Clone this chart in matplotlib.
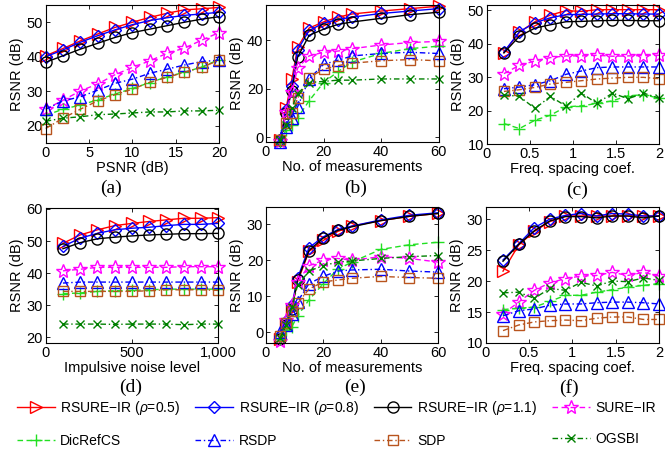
import numpy as np
import matplotlib as mpl
import matplotlib.pyplot as plt

mpl.rcParams['font.family'] = 'Liberation Sans'
mpl.rcParams['font.size'] = 10
mpl.rcParams['mathtext.fontset'] = 'custom'
mpl.rcParams['mathtext.rm'] = 'Liberation Sans'
mpl.rcParams['mathtext.it'] = 'Liberation Sans:italic'

W, H = 665, 457

methods = ['RSURE\u2212IR ($\\it{\\rho}$=0.5)', 'RSURE\u2212IR ($\\it{\\rho}$=0.8)',
           'RSURE\u2212IR ($\\it{\\rho}$=1.1)', 'SURE\u2212IR',
           'DicRefCS', 'RSDP', 'SDP', 'OGSBI']

# (a) RSNR vs PSNR, rows in the order of `methods`
a_x = [0, 2, 4, 6, 8, 10, 12, 14, 16, 18, 20]
a_y = [
    [40.3, 42.4, 44.6, 46.6, 48.5, 50.0, 51.4, 52.6, 53.6, 53.9, 54.3],
    [40.0, 42.0, 44.2, 46.1, 47.8, 49.3, 50.5, 51.3, 52.0, 52.4, 52.9],
    [38.4, 40.3, 42.2, 43.9, 45.6, 47.0, 48.0, 49.0, 50.0, 50.9, 51.6],
    [24.8, 27.4, 30.1, 32.1, 34.8, 36.9, 38.8, 41.0, 42.5, 44.8, 47.0],
    [23.0, 24.8, 26.0, 27.5, 29.2, 30.8, 32.5, 34.2, 35.5, 37.0, 39.2],
    [24.8, 27.2, 28.4, 30.3, 32.3, 33.5, 35.2, 36.4, 37.6, 38.6, 39.0],
    [19.2, 22.2, 24.8, 27.2, 29.0, 30.6, 32.6, 34.0, 35.5, 36.9, 39.0],
    [21.3, 22.2, 22.6, 23.2, 23.4, 23.7, 24.0, 24.0, 24.3, 24.3, 24.5],
]

# (b) RSNR vs number of measurements
b_x = [5, 7, 9, 11, 15, 20, 25, 30, 40, 50, 60]
b_y = [
    [-1.0, 12.0, 24.0, 37.0, 45.0, 47.5, 49.5, 50.8, 52.0, 53.0, 54.0],
    [-1.0, 11.0, 21.0, 36.0, 44.0, 47.0, 48.5, 49.5, 51.0, 52.0, 53.0],
    [-1.0, 10.0, 19.0, 33.0, 42.0, 44.5, 46.5, 47.5, 49.0, 50.5, 51.5],
    [-1.5, 10.5, 18.5, 28.5, 33.5, 35.0, 35.5, 36.5, 38.0, 39.0, 39.5],
    [-2.0, 3.0, 5.0, 8.0, 15.0, 22.5, 27.0, 31.0, 34.5, 36.5, 37.5],
    [-2.0, 4.0, 8.0, 12.5, 24.0, 30.0, 31.7, 33.5, 34.5, 35.0, 34.5],
    [-1.0, 6.0, 10.0, 16.0, 24.5, 28.0, 29.5, 30.5, 31.5, 32.0, 31.5],
    [-1.0, 5.0, 12.0, 18.0, 22.5, 23.0, 23.5, 23.5, 24.0, 24.0, 24.0],
]

# (c) RSNR vs frequency spacing coefficient
c_x = [0.2, 0.38, 0.56, 0.74, 0.92, 1.1, 1.28, 1.46, 1.64, 1.82, 2.0]
c_y = [
    [37.3, 43.4, 46.5, 48.5, 49.8, 49.6, 50.1, 50.1, 50.1, 50.1, 50.1],
    [37.5, 43.5, 46.2, 47.7, 48.6, 48.7, 48.8, 48.9, 48.9, 48.8, 48.8],
    [37.2, 42.2, 44.6, 45.6, 46.5, 46.6, 46.8, 46.9, 46.9, 46.8, 46.8],
    [31.0, 33.5, 34.8, 35.8, 36.3, 36.3, 36.5, 36.2, 36.3, 36.4, 36.5],
    [16.1, 14.6, 17.1, 18.6, 21.1, 21.4, 22.1, 22.9, 24.4, 24.7, 23.7],
    [26.5, 27.0, 27.7, 28.9, 30.8, 31.8, 32.8, 33.0, 33.0, 33.0, 33.0],
    [25.7, 26.2, 26.9, 27.9, 28.4, 28.9, 29.4, 29.7, 29.9, 29.9, 29.5],
    [24.7, 24.2, 20.6, 24.2, 21.3, 25.2, 22.1, 25.2, 23.5, 25.2, 23.7],
]

# (d) RSNR vs impulsive noise level
d_x = [100, 200, 300, 400, 500, 600, 700, 800, 900, 1000]
d_y = [
    [49.3, 51.9, 53.5, 54.8, 55.5, 56.1, 56.6, 57.1, 57.1, 57.3],
    [48.3, 50.9, 52.4, 53.5, 54.0, 54.3, 54.8, 55.2, 55.2, 55.5],
    [47.6, 49.5, 50.7, 51.2, 51.6, 51.9, 52.1, 52.3, 52.3, 52.4],
    [40.7, 41.2, 41.8, 41.8, 41.8, 41.8, 41.8, 42.0, 42.0, 42.0],
    [33.6, 33.8, 34.3, 34.5, 34.6, 34.8, 35.0, 35.0, 35.0, 35.0],
    [36.9, 37.2, 37.2, 37.2, 37.2, 37.2, 37.2, 37.2, 37.2, 37.2],
    [34.3, 34.3, 34.3, 34.3, 34.3, 34.5, 34.8, 34.8, 34.8, 34.6],
    [24.1, 24.1, 24.1, 24.0, 24.1, 24.1, 24.1, 23.9, 24.1, 24.1],
]

# (e) RSNR vs number of measurements
e_x = [5, 7, 9, 11, 15, 20, 25, 30, 40, 50, 60]
e_y = [
    [-2.0, 2.0, 6.5, 14.0, 22.5, 25.5, 28.0, 29.5, 31.0, 32.2, 33.0],
    [-1.0, 3.0, 7.5, 15.0, 23.5, 26.5, 28.5, 29.5, 31.2, 32.5, 33.2],
    [-1.8, 2.0, 6.5, 14.5, 22.7, 26.2, 28.3, 29.3, 31.0, 32.2, 33.0],
    [-2.5, 3.5, 7.5, 14.0, 18.5, 20.0, 20.5, 20.0, 21.0, 20.5, 19.5],
    [-2.0, 0.5, 1.5, 4.5, 9.0, 13.5, 17.5, 19.5, 23.0, 24.3, 25.0],
    [0.0, 2.0, 5.0, 8.5, 13.5, 15.5, 17.0, 17.3, 17.5, 17.0, 16.7],
    [-1.0, 2.5, 6.0, 8.0, 12.0, 14.0, 14.5, 15.0, 15.5, 15.2, 15.0],
    [-1.5, 2.0, 7.0, 13.0, 17.0, 18.5, 19.5, 19.8, 20.5, 21.0, 21.3],
]

# (f) RSNR vs frequency spacing coefficient
f_x = [0.2, 0.38, 0.56, 0.74, 0.92, 1.1, 1.28, 1.46, 1.64, 1.82, 2.0]
f_y = [
    [21.6, 25.8, 28.0, 29.6, 30.5, 30.5, 30.5, 30.5, 30.5, 30.5, 30.5],
    [23.4, 26.0, 28.6, 30.0, 30.6, 30.9, 30.5, 30.9, 30.8, 30.5, 30.5],
    [23.2, 25.9, 28.1, 29.7, 30.4, 30.4, 30.2, 30.5, 30.5, 30.2, 30.5],
    [14.7, 16.6, 18.5, 19.7, 20.4, 20.8, 20.9, 21.4, 20.9, 21.4, 20.8],
    [15.4, 15.6, 15.8, 16.7, 17.7, 17.7, 18.2, 18.6, 19.0, 19.3, 19.6],
    [14.4, 15.2, 15.5, 16.1, 16.3, 16.3, 16.5, 16.6, 16.6, 16.5, 16.3],
    [12.0, 12.9, 13.4, 13.6, 13.7, 13.6, 14.0, 14.2, 14.2, 13.8, 13.8],
    [18.1, 18.2, 17.2, 18.8, 18.5, 19.8, 19.2, 20.0, 19.9, 20.5, 20.1],
]

dash = (0, (4, 2.5))
dashdot = (0, (4, 2, 1, 2))
styles = [
    dict(color='#ff0000', ls='-', marker='>', ms=8),
    dict(color='#0000ff', ls='-', marker='D', ms=6),
    dict(color='#000000', ls='-', marker='o', ms=8),
    dict(color='#ff00ff', ls=dash, marker='*', ms=10),
    dict(color='#22e022', ls=dash, marker='+', ms=9),
    dict(color='#0000ff', ls=dashdot, marker='^', ms=9),
    dict(color='#b8541e', ls=dashdot, marker='s', ms=7),
    dict(color='#008000', ls=dashdot, marker='x', ms=6),
]


def rect(l, t, r, b):
    return [l / W, 1 - b / H, (r - l) / W, (b - t) / H]


fig = plt.figure(figsize=(W / 100, H / 100), dpi=100)

panels = [
    ('(a)', a_x, a_y, (45.7, 5, 219, 143), (0, 20), (15, 55), [0, 5, 10, 15, 20], None,
     [20, 30, 40, 50], 'PSNR (dB)', (111, 188)),
    ('(b)', b_x, b_y, (266, 5, 438.5, 142), (0, 60), (-2, 54.5), [0, 20, 40, 60], None,
     [0, 20, 40], 'No. of measurements', (356, 188)),
    ('(c)', c_x, c_y, (486.7, 5, 659, 144), (0, 2), (10, 51.5), [0, 0.5, 1, 1.5, 2],
     ['0', '0.5', '1', '1.5', '2'], [10, 20, 30, 40, 50], 'Freq. spacing coef.', (577, 190)),
    ('(d)', d_x, d_y, (45.7, 207.7, 218, 343), (0, 1000), (18.2, 60.4), [0, 500, 1000],
     ['0', '500', '1,000'], [20, 30, 40, 50, 60], 'Impulsive noise level', (131, 387)),
    ('(e)', e_x, e_y, (266, 207, 438, 343), (0, 60), (-3, 34.8), [0, 20, 40, 60], None,
     [0, 10, 20, 30], 'No. of measurements', (355, 387)),
    ('(f)', f_x, f_y, (485.7, 206.7, 659, 343), (0, 2), (10, 32), [0, 0.5, 1, 1.5, 2],
     ['0', '0.5', '1', '1.5', '2'], [10, 15, 20, 25, 30], 'Freq. spacing coef.', (569, 388)),
]

lines = None
for tag, xs, ys, box, xlim, ylim, xt, xtl, yt, xlabel, tpos in panels:
    ax = fig.add_axes(rect(*box))
    handles = []
    for y, st in zip(ys, styles):
        h, = ax.plot(xs, y, color=st['color'], linestyle=st['ls'], marker=st['marker'],
                     markersize=st['ms'], markerfacecolor='none', markeredgecolor=st['color'],
                     markeredgewidth=1.0, linewidth=1.0, clip_on=False)
        handles.append(h)
    if lines is None:
        lines = handles
    ax.set_xlim(*xlim)
    ax.set_ylim(*ylim)
    ax.set_xticks(xt)
    if xtl is not None:
        ax.set_xticklabels(xtl)
    ax.set_yticks(yt)
    ax.tick_params(direction='in', length=3, width=0.6, top=True, right=True,
                   labelsize=10.5, pad=2)
    for sp in ax.spines.values():
        sp.set_linewidth(0.8)
    ax.set_xlabel(xlabel, fontsize=10.5, labelpad=1)
    ax.set_ylabel('RSNR (dB)', fontsize=10.5, labelpad=2)
    fig.text(tpos[0] / W, 1 - tpos[1] / H, tag, family='Liberation Serif', fontsize=14,
             ha='center', va='center')

# legend in two rows of four (legend fills column-major)
order = [0, 4, 1, 5, 2, 6, 3, 7]
fig.legend([lines[i] for i in order], [methods[i] for i in order], ncol=4,
           loc='upper left', bbox_to_anchor=(17 / W, 1 - 399 / H), frameon=False,
           fontsize=10, handlelength=2.7, handletextpad=0.4, columnspacing=1.1,
           labelspacing=1.2, borderpad=0, borderaxespad=0)

fig.savefig('out.png', dpi=100)
